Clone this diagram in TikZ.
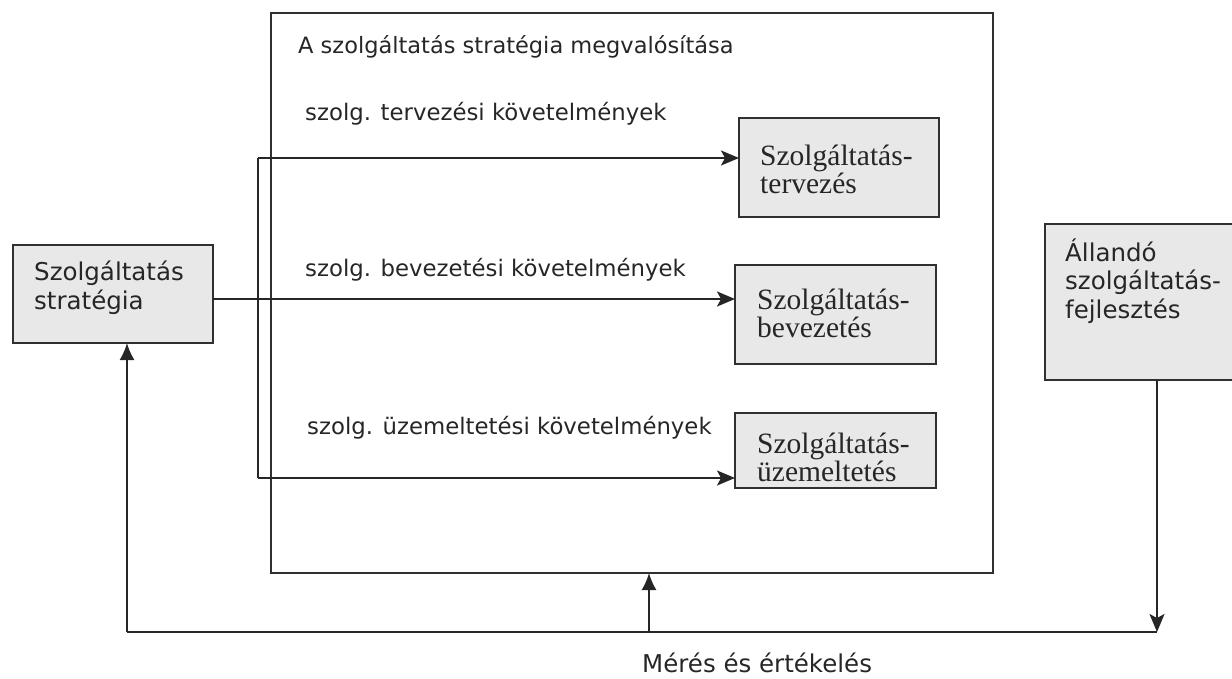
\documentclass[tikz,border=0pt]{standalone}
\usepackage{fontspec}
\setmainfont{DejaVu Sans}
\newfontfamily\serifbox{Liberation Serif}
\usetikzlibrary{arrows.meta}
\definecolor{ink}{HTML}{262626}
\definecolor{boxfill}{HTML}{E8E8E8}
\definecolor{edge}{HTML}{303030}

\begin{document}
\begin{tikzpicture}[x=1pt,y=-1pt,
  frame/.style={draw=edge, line width=1.9pt, inner sep=0pt, outer sep=0pt, anchor=north west},
  greybox/.style={frame, fill=boxfill},
  % multi-line nodes: the base anchor sits on the last line
  sanslabel/.style={text=ink, font=\fontsize{24.5}{28.5}\selectfont, inner sep=0pt, anchor=base west, align=left},
  titlelabel/.style={text=ink, font=\fontsize{22.5}{26}\selectfont, inner sep=0pt, anchor=base west},
  reqlabel/.style={text=ink, font=\fontsize{22.8}{26}\selectfont, inner sep=0pt, anchor=base west},
  seriflabel/.style={text=ink, font=\serifbox\fontsize{29.5}{28}\selectfont, inner sep=0pt, anchor=base west, align=left},
  wire/.style={draw=ink, line width=1.9pt},
  harr/.style={wire, -{Stealth[length=18pt,width=15pt,inset=4pt]}},
  varr/.style={wire, -{Latex[length=17pt,width=15pt]}},
]
\useasboundingbox (0,0) rectangle (1232,678);
\clip (0,0) rectangle (1232,678);

% outer frame of the implementation stage
\node[frame, minimum width=722, minimum height=560] (impl) at (271,13) {};
\node[titlelabel] (implT) at (298,53) {A szolgáltatás stratégia megvalósítása};

% requirement labels
\node[reqlabel] (reqA) at (305,120) {szolg. tervezési követelmények};
\node[reqlabel] (reqB) at (305,276) {szolg. bevezetési követelmények};
\node[reqlabel] (reqC) at (307,434) {szolg. üzemeltetési követelmények};

% grey boxes
\node[greybox, minimum width=200, minimum height=98] (strat) at (13,245) {};
\node[sanslabel] (stratT) at (34,309) {Szolgáltatás\\stratégia};

\node[greybox, minimum width=200, minimum height=99] (terv) at (739,118) {};
\node[seriflabel] (tervT) at (760,193) {Szolgáltatás-\\tervezés};

\node[greybox, minimum width=201, minimum height=99] (bevez) at (735,265) {};
\node[seriflabel] (bevezT) at (757,337) {Szolgáltatás-\\bevezetés};

\node[greybox, minimum width=201, minimum height=75] (uzem) at (735,413) {};
\node[seriflabel] (uzemT) at (757,481) {Szolgáltatás-\\üzemeltetés};

\node[greybox, minimum width=230, minimum height=156] (fejl) at (1045,224) {};
\node[sanslabel] (fejlT) at (1065,318) {Állandó\\szolgáltatás-\\fejlesztés};

% distribution bus from the strategy box
\coordinate (busTop) at (258,158);
\coordinate (busMid) at (258,299);
\coordinate (busBot) at (258,478);
\draw[wire] (busTop) -- (busBot);
\draw[harr] (busTop) -- (busTop -| terv.west);
\draw[harr] (strat.east |- busMid) -- (busMid -| bevez.west);
\draw[harr] (busBot) -- (busBot -| uzem.west);

% feedback loop
\coordinate (loopL) at (127,632);
\coordinate (loopM) at (649,632);
\coordinate (loopR) at (1157,632);
\draw[harr] (loopR |- fejl.south) -- (loopR);
\draw[wire] (loopR) -- (loopL);
\draw[varr] (loopL) -- (loopL |- strat.south);
\draw[varr] (loopM) -- (loopM |- impl.south);
\node[sanslabel] (measure) at (642,672) {Mérés és értékelés};
\end{tikzpicture}
\end{document}
